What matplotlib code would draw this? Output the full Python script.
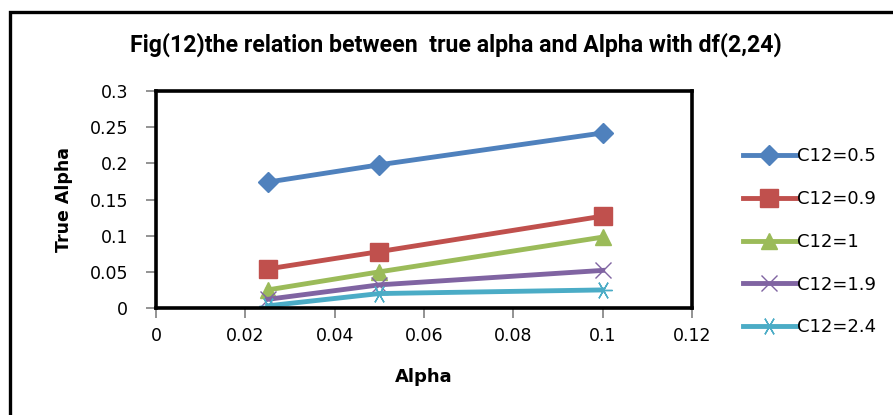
import matplotlib
matplotlib.use('Agg')
import matplotlib.pyplot as plt
from matplotlib.patches import Rectangle
from matplotlib.ticker import FuncFormatter

# alpha levels and the true alpha for each C12
alpha = [0.025, 0.05, 0.1]
c12_05 = [0.174, 0.198, 0.242]
c12_09 = [0.054, 0.078, 0.127]
c12_1 = [0.025, 0.050, 0.098]
c12_19 = [0.012, 0.032, 0.052]
c12_24 = [0.003, 0.020, 0.025]
nomes = ['C12=0.5', 'C12=0.9', 'C12=1', 'C12=1.9', 'C12=2.4']

cores = ['#4F81BD', '#C0504D', '#9BBB59', '#8064A2', '#4BACC6']
marcadores = ['D', 's', '^', 'x', (6, 2, 90)]
tamanhos = [10, 13, 12, 12, 13]

plt.rcParams['font.family'] = ['DejaVu Sans']
titulo_fonte = ['Roboto', 'DejaVu Sans']

fig = plt.figure(figsize=(8.93, 4.15), dpi=100)
ax = fig.add_axes([0.1747, 0.2578, 0.6002, 0.5229])

series = [c12_05, c12_09, c12_1, c12_19, c12_24]
for y, nome, cor, m, t in zip(series, nomes, cores, marcadores, tamanhos):
    ax.plot(alpha, y, color=cor, lw=3.5, marker=m, ms=t,
            mec=cor, mew=1, label=nome)

ax.set_xlim(0, 0.12)
ax.set_ylim(0, 0.3)
ax.set_xticks([0, 0.02, 0.04, 0.06, 0.08, 0.1, 0.12])
ax.set_yticks([0, 0.05, 0.1, 0.15, 0.2, 0.25, 0.3])
fmt = FuncFormatter(lambda v, p: '%g' % round(v, 3))
ax.xaxis.set_major_formatter(fmt)
ax.yaxis.set_major_formatter(fmt)
ax.tick_params(direction='out', length=7, width=1.2, color='#808080',
               labelsize=12.5)
ax.tick_params(axis='x', pad=7)
ax.tick_params(axis='y', pad=13)

for lado in ['top', 'right', 'left', 'bottom']:
    ax.spines[lado].set_color('black')
    ax.spines[lado].set_linewidth(2.6)

ax.set_xlabel('Alpha', fontsize=13, fontweight='bold', labelpad=16)
ax.set_ylabel('True Alpha', fontsize=12.5, fontweight='bold', labelpad=12)

fig.text(0.511, 0.892, 'Fig(12)the relation between  true alpha and Alpha with df(2,24)',
         ha='center', va='center', fontsize=16.7, fontweight='bold', family=titulo_fonte)

ax.legend(loc='center left', bbox_to_anchor=(1.082, 0.305), frameon=False,
          fontsize=13, handlelength=2.9, labelspacing=1.37, handletextpad=0.1,
          borderaxespad=0)

# moldura externa do grafico
fig.patches.append(Rectangle((10 / 893, -0.1), 1.2, 1.1 - 12 / 415,
                             transform=fig.transFigure, fill=False,
                             ec='black', lw=2.4))

fig.savefig('out.png', dpi=100)
